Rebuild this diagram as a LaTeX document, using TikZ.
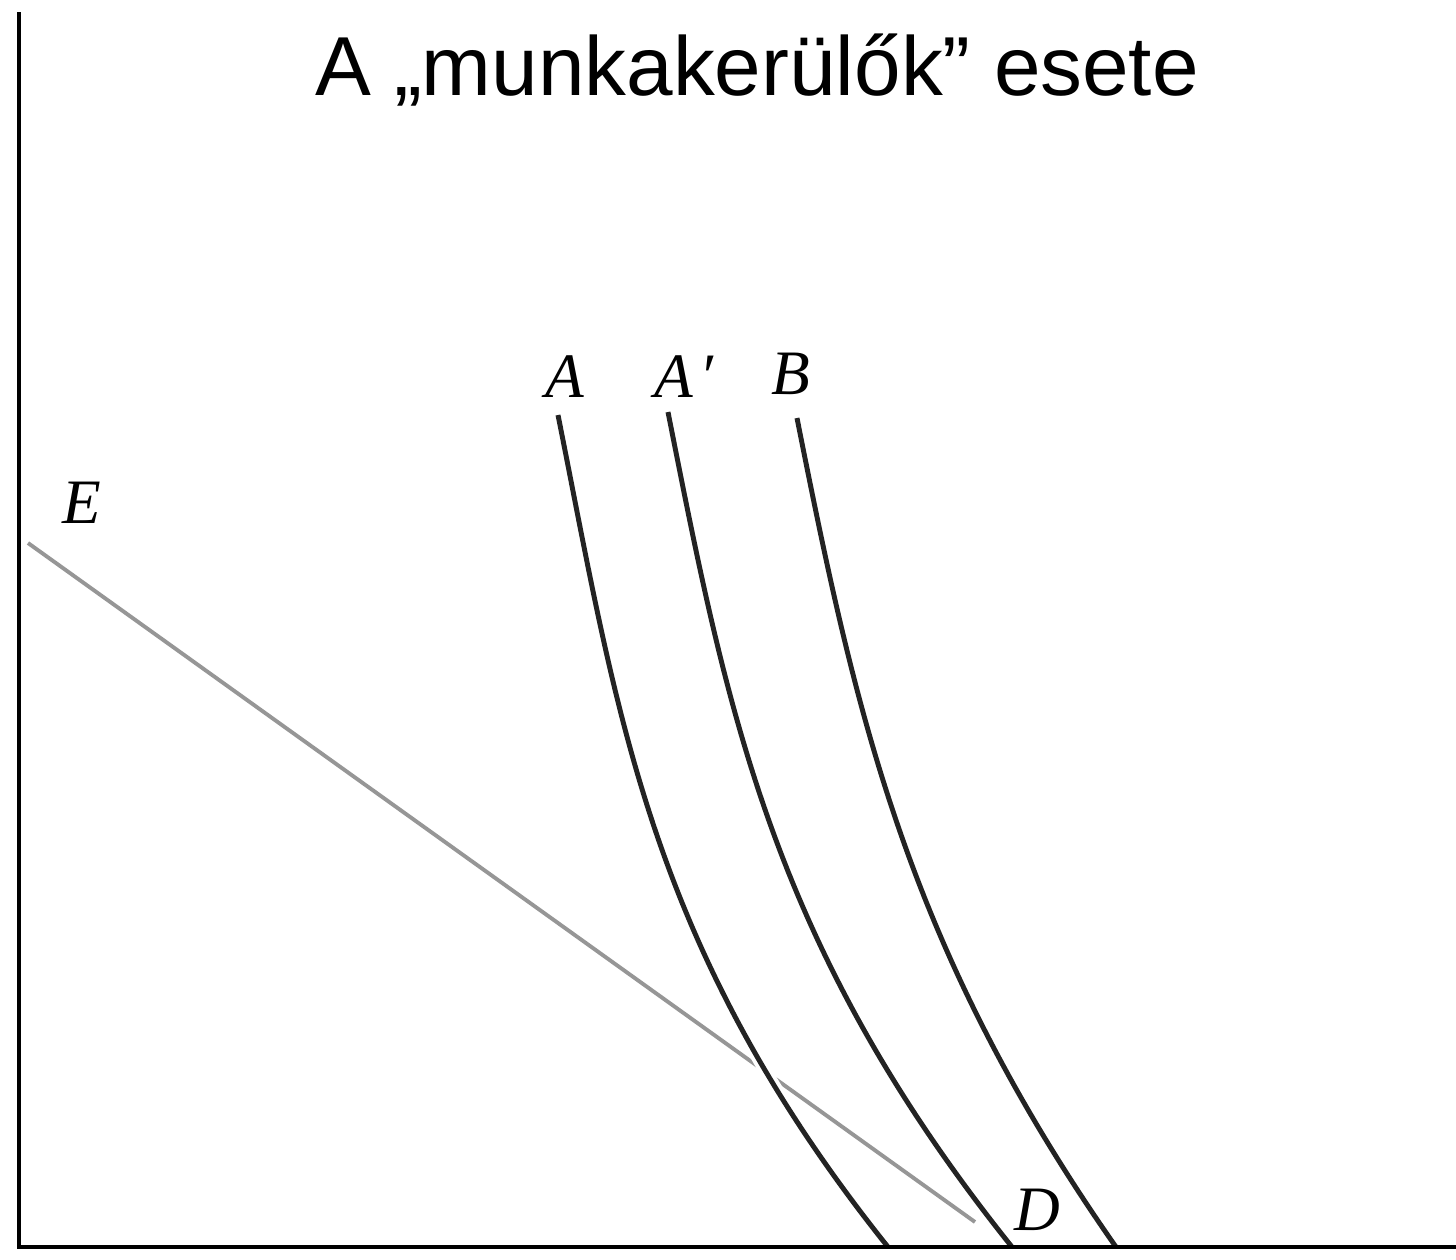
\documentclass[tikz,border=0pt]{standalone}
\usepackage{fontspec}
\setmainfont{Liberation Serif}
\newfontfamily\titlefont{Liberation Sans}
\usetikzlibrary{positioning,calc}
\definecolor{CurveBlack}{RGB}{35,35,35}
\definecolor{BudgetGray}{RGB}{150,150,150}
\tikzset{
  axis/.style={draw=black,line width=0.9pt},
  curve/.style={draw=CurveBlack,line width=1.4pt},
  gap/.style={preaction={draw=white,line width=3.6pt}},
  budget/.style={draw=BudgetGray,line width=1.1pt},
}
\tikzset{lab/.style={font=\fontsize{18}{20}\selectfont\itshape,inner sep=0pt}, heading/.style={font=\titlefont\fontsize{23.8}{28}\selectfont,inner sep=0pt,anchor=base}}

\begin{document}
\begin{tikzpicture}[x=0.01cm,y=-0.01cm]
\useasboundingbox (0,0) rectangle (1456,1260);
\coordinate (ytop) at (19,12);
\coordinate (o) at (19,1247);
\coordinate (xend) at (1456,1247);
\coordinate (e0) at (28,543);
\coordinate (e1) at (975,1222);
\coordinate (a0) at (558,415);
\coordinate (a1) at (888,1247);
\coordinate (ap0) at (668,412);
\coordinate (ap1) at (1012,1247);
\coordinate (b0) at (797,418);
\coordinate (b1) at (1116,1247);
\draw[budget] (e0)--(e1);
\draw[curve,gap] (a0) .. controls (618,715) and (648,947) .. (a1);
\draw[curve] (ap0) .. controls (728,715) and (772,947) .. (ap1);
\draw[curve] (b0) .. controls (856,715) and (906,947) .. (b1);
\draw[axis] (ytop)--(o)--(xend);
\node[heading] (title) at (757,95) {A „munkakerülők” esete};
\node[lab] (labA) at (565,377) {A};
\node[lab] (labAp) at (684,377) {A\kern2pt′};
\node[lab] (labB) at (791,374) {B};
\node[lab] (labE) at (82,503) {E};
\node[lab] (labD) at (1037,1210) {D};
\end{tikzpicture}
\end{document}
